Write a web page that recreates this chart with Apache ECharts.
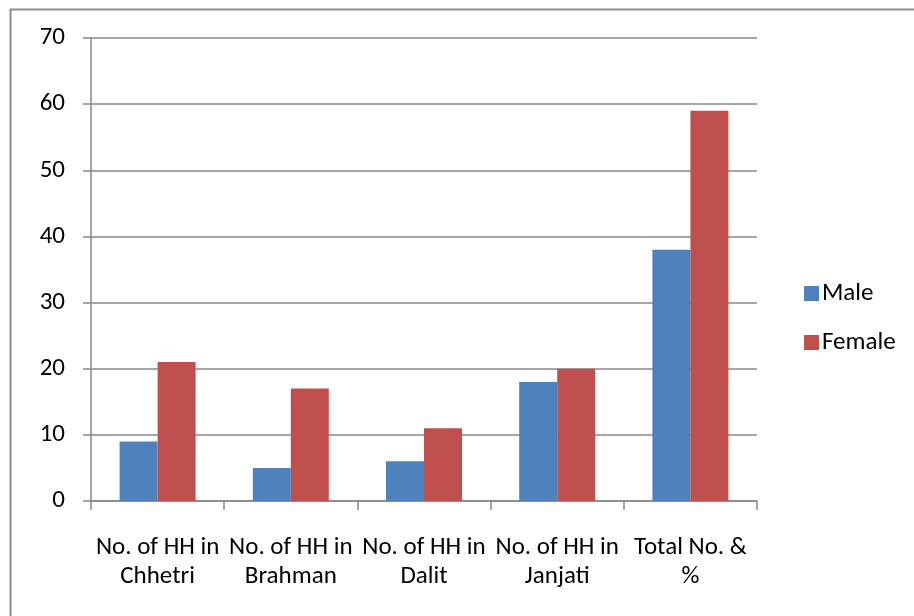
<!DOCTYPE html>
<html>
<head>
<meta charset="utf-8">
<script src="https://cdn.jsdelivr.net/npm/echarts@6/dist/echarts.min.js"></script>
<style>
  html, body { margin: 0; padding: 0; background: #fff; }
  #chart { width: 914px; height: 616px; }
</style>
</head>
<body>
<div id="chart"></div>
<script>
// Household headship by caste group
const categories = [
  'No. of HH in\nChhetri',
  'No. of HH in\nBrahman',
  'No. of HH in\nDalit',
  'No. of HH in\nJanjati',
  'Total No. &\n%'
];
const maleValues = [9, 5, 6, 18, 38];
const femaleValues = [21, 17, 11, 20, 59];
const seriesNames = ['Male', 'Female'];

const fontFamily = 'Carlito, "Open Sans", "Liberation Sans", sans-serif';
const axisGray = '#888888';
const fontSize = 25;

const chart = echarts.init(document.getElementById('chart'), null, { renderer: 'canvas' });
chart.setOption({
  backgroundColor: '#ffffff',
  animation: false,
  textStyle: { fontFamily: fontFamily, fontSize: fontSize },
  graphic: [
    {
      type: 'polyline',
      shape: { points: [[10.5, 616], [10.5, 9.5], [914, 9.5]] },
      style: { stroke: '#8c8c8c', lineWidth: 2, fill: null },
      silent: true
    }
  ],
  legend: {
    orient: 'vertical',
    left: 799,
    top: 276,
    itemWidth: 15,
    itemHeight: 15,
    itemGap: 24,
    icon: 'rect',
    textStyle: { fontSize: fontSize, lineHeight: 25, color: '#000', fontFamily: fontFamily, padding: [0, 0, 0, -2] },
    data: seriesNames
  },
  grid: {
    left: 91,
    right: 914 - 757,
    top: 38,
    bottom: 616 - 501,
    containLabel: false
  },
  xAxis: {
    type: 'category',
    data: categories,
    axisLine: { lineStyle: { color: axisGray, width: 1.5 } },
    axisTick: { show: true, length: 9, alignWithLabel: false, lineStyle: { color: axisGray, width: 1.5 } },
    axisLabel: {
      interval: 0,
      color: '#000',
      fontSize: fontSize,
      lineHeight: 29,
      margin: 32,
      fontFamily: fontFamily
    }
  },
  yAxis: {
    type: 'value',
    min: 0,
    max: 70,
    interval: 10,
    axisLine: { show: true, lineStyle: { color: axisGray, width: 1.5 } },
    axisTick: { show: true, length: 8, lineStyle: { color: axisGray, width: 1.5 } },
    splitLine: { lineStyle: { color: axisGray, width: 1.5 } },
    axisLabel: { color: '#000', fontSize: fontSize, margin: 26, fontFamily: fontFamily }
  },
  series: [
    {
      name: seriesNames[0],
      type: 'bar',
      data: maleValues,
      barWidth: 38,
      barGap: '0%',
      itemStyle: { color: '#4f81bd' }
    },
    {
      name: seriesNames[1],
      type: 'bar',
      data: femaleValues,
      barWidth: 38,
      barGap: '0%',
      itemStyle: { color: '#c0504d' }
    }
  ]
});
</script>
</body>
</html>
